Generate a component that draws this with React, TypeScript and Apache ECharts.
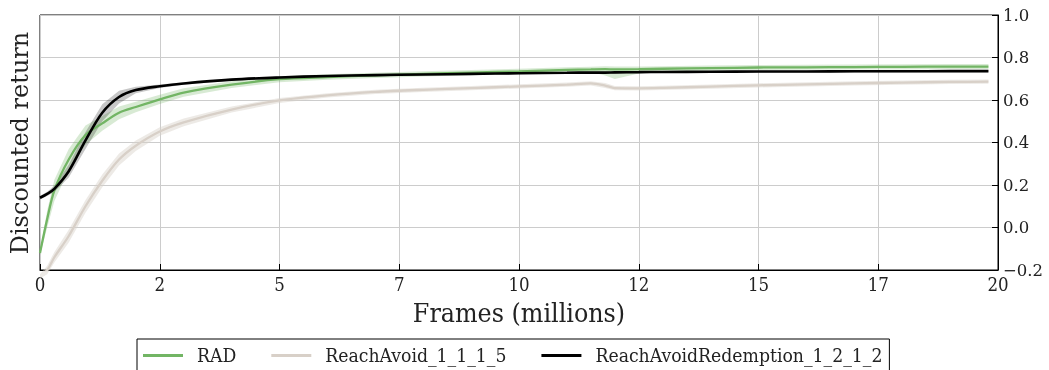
import React, { useEffect, useRef } from "react";
import * as echarts from "echarts";

const frames = [0, 0.15, 0.3, 0.6, 0.95, 1.3, 1.65, 2, 2.5, 3, 4, 5, 6, 7, 8, 9, 10, 11, 11.5, 11.8, 12, 12.5, 13, 14, 15, 16, 17, 18, 19, 19.8];

const radMean = [-0.12, 0.04, 0.175, 0.32, 0.435, 0.49, 0.54, 0.567, 0.603, 0.635, 0.672, 0.698, 0.708, 0.716, 0.723, 0.729, 0.735, 0.742, 0.744, 0.745, 0.744, 0.745, 0.747, 0.75, 0.753, 0.754, 0.755, 0.756, 0.757, 0.757];
const radBandLo = [0.01, 0.04, 0.05, 0.05, 0.045, 0.035, 0.03, 0.025, 0.022, 0.02, 0.016, 0.014, 0.013, 0.012, 0.012, 0.012, 0.012, 0.012, 0.012, 0.03, 0.045, 0.02, 0.012, 0.012, 0.012, 0.012, 0.012, 0.012, 0.012, 0.012];
const radBandHi = [0.01, 0.04, 0.05, 0.05, 0.045, 0.035, 0.03, 0.025, 0.022, 0.02, 0.016, 0.014, 0.013, 0.012, 0.012, 0.012, 0.012, 0.012, 0.012, 0.014, 0.014, 0.013, 0.012, 0.012, 0.012, 0.012, 0.012, 0.012, 0.012, 0.012];

const reachMean = [-0.23, -0.2, -0.14, -0.04, 0.1, 0.22, 0.32, 0.385, 0.452, 0.495, 0.555, 0.598, 0.622, 0.638, 0.648, 0.656, 0.664, 0.672, 0.678, 0.668, 0.656, 0.655, 0.657, 0.663, 0.669, 0.674, 0.678, 0.682, 0.685, 0.686];
const reachBand = [0.01, 0.02, 0.025, 0.03, 0.03, 0.03, 0.028, 0.025, 0.02, 0.018, 0.014, 0.012, 0.01, 0.01, 0.01, 0.01, 0.01, 0.01, 0.01, 0.012, 0.01, 0.01, 0.01, 0.01, 0.01, 0.01, 0.01, 0.01, 0.01, 0.01];

const redemptionMean = [0.14, 0.158, 0.182, 0.265, 0.41, 0.54, 0.614, 0.647, 0.665, 0.678, 0.696, 0.706, 0.713, 0.717, 0.72, 0.723, 0.726, 0.728, 0.729, 0.729, 0.73, 0.731, 0.732, 0.733, 0.734, 0.734, 0.735, 0.735, 0.736, 0.736];
const redemptionBand = [0.008, 0.01, 0.015, 0.03, 0.04, 0.04, 0.03, 0.015, 0.008, 0.006, 0.005, 0.005, 0.005, 0.005, 0.005, 0.005, 0.005, 0.005, 0.005, 0.005, 0.005, 0.005, 0.005, 0.005, 0.005, 0.005, 0.005, 0.005, 0.005, 0.005];

const seriesNames = ["RAD", "ReachAvoid_1_1_1_5", "ReachAvoidRedemption_1_2_1_2"];
const colors = ["#72b564", "#d8d0c8", "#000000"];
const bandColors = ["rgba(114,181,100,0.28)", "rgba(216,208,200,0.45)", "rgba(0,0,0,0.22)"];

const SERIF = "'DejaVu Serif', serif";
const COND = "'DejaVu Serif Condensed', 'DejaVu Serif', serif";

export default function App() {
  const ref = useRef<HTMLDivElement>(null);
  useEffect(() => {
    if (!ref.current) return;
    const chart = echarts.init(ref.current, null, { renderer: "svg" });
    const means = [radMean, reachMean, redemptionMean];
    const bandsLo = [radBandLo, reachBand, redemptionBand];
    const bandsHi = [radBandHi, reachBand, redemptionBand];
    const series: any[] = [];
    series.push({
      name: "bands",
      type: "custom",
      data: [[0, 0], [1, 0], [2, 0]],
      silent: true,
      z: 1,
      renderItem: (params: any, api: any) => {
        const i = params.dataIndex;
        const m = means[i];
        const lo = bandsLo[i];
        const hi = bandsHi[i];
        const pts: number[][] = [];
        for (let k = 0; k < frames.length; k++) pts.push(api.coord([frames[k], m[k] + hi[k]]));
        for (let k = frames.length - 1; k >= 0; k--) pts.push(api.coord([frames[k], m[k] - lo[k]]));
        return {
          type: "polygon",
          shape: { points: pts },
          style: { fill: bandColors[i], stroke: "none" },
        };
      },
    });
    means.forEach((m, i) => {
      series.push({
        name: seriesNames[i],
        type: "line",
        data: frames.map((f, k) => [f, m[k]]),
        lineStyle: { color: colors[i], width: i === 2 ? 2.6 : 2.3 },
        itemStyle: { color: colors[i] },
        symbol: "none",
        smooth: 0.3,
        z: 3 + i,
      });
    });
    chart.setOption({
      animation: false,
      grid: {
        left: 40,
        right: 51,
        top: 15,
        bottom: 100,
        show: true,
        borderColor: "#000",
        borderWidth: 1,
        backgroundColor: "transparent",
      },
      xAxis: {
        type: "value",
        min: 0,
        max: 20,
        interval: 2.5,
        name: "Frames (millions)",
        nameLocation: "middle",
        nameGap: 28,
        nameTextStyle: { fontFamily: COND, fontSize: 26.5, color: "#222" },
        axisLine: { show: true, onZero: false, lineStyle: { color: "#000" } },
        axisTick: { show: true, inside: true, length: 6, lineStyle: { color: "#000" } },
        axisLabel: {
          fontFamily: COND,
          fontSize: 18.5,
          color: "#222",
          margin: 5,
          formatter: (v: number) => String(Math.floor(v)),
        },
        splitLine: { show: true, lineStyle: { color: "#cccccc", width: 1 } },
      },
      yAxis: {
        type: "value",
        position: "right",
        min: -0.2,
        max: 1.0,
        interval: 0.2,
        axisLine: { show: true, onZero: false, lineStyle: { color: "#000" } },
        axisTick: { show: true, inside: true, length: 6, lineStyle: { color: "#000" } },
        axisLabel: {
          fontFamily: SERIF,
          fontSize: 16.5,
          color: "#222",
          margin: 5,
          formatter: (v: number) => v.toFixed(1).replace("-", "\u2212"),
        },
        splitLine: { show: true, lineStyle: { color: "#cccccc", width: 1 } },
      },
      legend: {
        data: seriesNames.map((n) => ({ name: n, icon: "rect" })),
        left: 137,
        top: 339,
        itemWidth: 40,
        itemHeight: 3,
        itemGap: 35,
        padding: [7, 7, 12, 6],
        borderColor: "#000",
        borderWidth: 1,
        borderRadius: 0,
        textStyle: { fontFamily: COND, fontSize: 19.2, color: "#222", padding: [0, 0, 0, 9] },
      },
      graphic: [
        {
          type: "text",
          x: 20,
          y: 143,
          rotation: Math.PI / 2,
          style: {
            text: "Discounted return",
            fontFamily: SERIF,
            fontSize: 24,
            fill: "#222",
            textAlign: "center",
            textVerticalAlign: "middle",
          },
        },
      ],
      series,
    });
    return () => chart.dispose();
  }, []);
  return <div ref={ref} style={{ position: "fixed", left: 0, top: 0, width: 1049, height: 370 }} />;
}
